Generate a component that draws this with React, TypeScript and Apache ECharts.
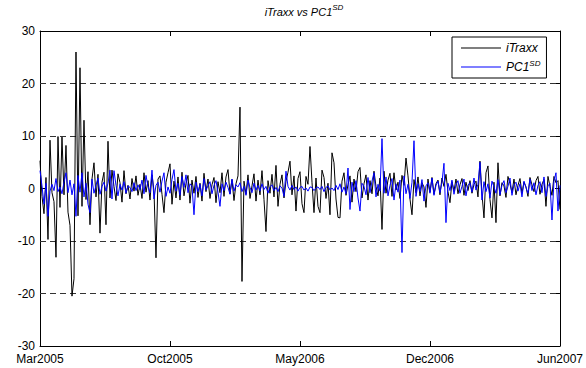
import React, { useEffect, useRef } from "react";
import * as echarts from "echarts";

// Tick labels for the x axis (evenly spaced, Mar 2005 -> Jun 2007)
const X_TICK_LABELS = ["Mar2005", "Oct2005", "May2006", "Dec2006", "Jun2007"];

const iTraxx = [
  5.3, -1.5, -4.8, 2.1, -9.7, 9.2, -0.8, -2.5, -13.1, 9.9,
  -3.6, 9.8, -1.2, 8.2, -4.5, -7.0, -20.5, -17.2, 26.0, -5.2,
  23.0, -3.4, 13.0, -2.1, 3.2, -6.9, 1.8, 4.9, -1.6, 2.7,
  -8.5, 1.2, 3.1, -6.9, 9.0, -1.8, 3.5, 0.4, -2.3, 2.8,
  1.1, -2.6, 3.4, -1.0, 0.6, -2.0, 1.9, -0.5, 2.4, -1.3,
  0.8, -1.9, 3.0, -0.7, 1.5, -2.2, 2.6, -0.4, -13.2, 1.8,
  2.4, -1.1, -4.6, 1.2, 3.0, 4.7, -3.0, 1.4, -1.8, 2.2,
  -2.2, 3.1, -1.4, 0.9, 2.5, -2.8, 1.6, -0.9, 2.3, -1.7,
  1.0, -2.4, 2.9, -0.6, 1.8, -1.9, 0.7, 2.1, -2.7, 1.3,
  -0.8, 3.0, -1.5, 2.2, 3.6, -1.0, 1.7, -2.3, 0.9, 2.4,
  15.5, -17.7, 1.4, -1.1, 2.6, -1.9, 0.5, 2.8, -2.4, 1.6,
  -1.2, 3.4, -2.1, -8.2, 1.5, -0.9, 2.7, -1.6, 4.4, -3.4,
  0.8, 2.6, -1.8, 1.4, 3.1, 5.2, -1.2, 2.4, -4.3, 1.9,
  3.2, -2.9, -4.6, 2.3, 0.8, 8.0, 1.2, -4.6, 2.0, -3.4,
  -4.6, 3.5, 2.1, -1.9, 1.0, -5.0, 6.8, 4.9, -2.0, -5.5,
  -5.6, 1.4, 3.0, -1.3, 0.7, 2.4, -2.6, 1.8, -0.6, 3.2,
  4.0, -1.8, 0.9, 2.6, -2.2, 1.5, -1.0, 3.3, 0.4, -1.4,
  2.0, -7.8, 3.3, -0.9, 1.6, 2.9, -1.5, 3.0, -0.3, 1.2,
  -1.9, 2.5, 0.6, 5.8, 2.4, -2.0, -5.0, 1.7, -0.8, 2.2,
  -1.4, 1.1, 0.3, -3.6, 1.8, -0.7, 2.1, -1.1, 0.9, 1.6,
  -1.2, 2.0, 0.4, 2.7, -0.6, -2.7, 1.3, -0.5, 1.8, -1.0,
  0.7, 1.9, -1.3, 1.2, -0.4, 1.5, -0.9, 0.8, 1.4, -1.6,
  5.2, -1.0, -5.6, 3.0, 4.3, -2.1, -5.6, 1.2, -6.5, 4.9,
  -1.4, 1.1, 0.5, -1.7, 2.3, 0.9, -0.8, 1.8, -1.2, 0.6,
  1.9, -0.9, 1.2, 0.3, -1.5, 2.1, 0.7, -0.6, 1.5, 2.3,
  -1.1, 0.8, 1.7, -3.4, 2.3, 0.4, -1.3, 2.3, 1.1, 1.5, -4.0,
];

const pc1SD = [
  3.4, 0.5, -3.0, 1.0, -5.3, -0.5, 0.8, -0.4, 1.9, -0.6,
  0.3, -1.0, 1.2, 3.0, -0.8, 1.6, -1.2, 0.9, -5.3, 2.5,
  -0.7, 3.0, -1.6, 1.0, -3.0, -4.6, 1.8, -0.9, 0.6, 2.0,
  -1.1, 0.4, 1.2, -0.5, 1.0, 3.5, -2.0, 3.4, 0.6, -1.4,
  0.8, -0.3, 1.3, -0.9, 0.5, 0.2, -0.6, 1.1, -0.4, 0.7,
  -0.2, 1.6, -1.0, 2.5, 0.4, -0.8, 3.5, -2.0, 0.6, 1.2,
  -0.7, 1.4, 3.0, -1.5, 0.3, -0.9, 1.7, 3.6, -0.5, 1.0,
  -1.3, 2.3, 0.2, 2.6, -0.8, 0.9, 0.4, -5.0, 1.2, -0.6,
  0.8, -1.4, 1.9, -0.3, 0.5, 1.3, -1.0, 0.6, 1.5, -0.7,
  -3.4, 0.9, -0.4, 1.2, 0.2, -1.1, 1.8, -0.5, 0.7, 0.3,
  1.1, -0.6, 0.4, -1.3, 1.6, 0.2, -0.8, 1.0, -0.3, 0.6,
  -0.5, 0.9, -0.2, 0.4, -0.9, 0.3, 0.7, -0.4, 0.2, -0.6,
  0.5, 0.1, -1.5, 3.3, 0.4, -0.3, 0.6, -0.2, 0.3, -0.5,
  0.2, 0.4, -0.3, 0.1, -0.5, 0.3, 0.2, -0.4, 0.1, 0.3,
  -0.2, 0.4, -0.6, 0.2, 0.5, -0.3, 0.1, -0.4, 0.6, -0.2,
  0.9, -0.7, 0.3, -1.0, 3.9, -4.0, 1.2, -0.6, 1.5, -1.8,
  -4.3, 1.0, 0.4, -1.2, 2.1, -0.8, 1.4, 3.0, -1.6, 0.8,
  -0.5, 9.5, -0.9, 2.2, -1.4, 0.6, 1.9, -2.2, 0.9, -0.7,
  1.6, -12.2, 2.4, -1.0, 0.8, -1.9, 1.2, 9.1, -1.5, 0.9,
  -0.6, 1.7, -2.4, 0.5, 1.1, -0.9, 2.0, -1.3, 0.6, 1.4,
  -0.8, 1.2, 4.8, -6.5, 1.0, -0.4, 1.6, -1.1, 0.7, 1.5,
  -0.9, 0.4, 1.8, -1.4, 0.6, 1.1, -0.7, 2.0, -0.3, 0.8,
  5.0, -2.2, 1.3, -0.6, 0.9, -1.8, 1.4, 0.3, -0.9, 1.7,
  -1.2, 0.6, 1.5, -0.8, 0.4, 2.0, -1.3, 0.7, 1.2, -0.5,
  0.9, -1.6, 1.4, 0.2, -0.9, 1.8, -0.4, 1.1, -1.2, 0.6,
  1.3, -0.8, 2.2, -1.5, 0.5, 1.0, -6.0, 1.4, 3.0, -4.3, 0.6,
];

const GRID_LEVELS = [20, 10, -10, -20];

const X_MAX = 260;
const X_STEP = X_MAX / (X_TICK_LABELS.length - 1);
const FONT = "'Liberation Sans', Arial, Helvetica, sans-serif";

export default function App() {
  const ref = useRef<HTMLDivElement>(null);

  useEffect(() => {
    if (!ref.current) return;
    const chart = echarts.init(ref.current, null, { renderer: "svg" });
    const toPairs = (arr: number[]) =>
      arr.map((v, i) => [(i * X_MAX) / (arr.length - 1), v]);

    const xCommon = {
      type: "value",
      min: 0,
      max: X_MAX,
      interval: X_STEP,
      splitLine: { show: false },
      axisLine: { show: true, onZero: false, lineStyle: { color: "#000", width: 1 } },
      axisTick: { show: true, inside: true, length: 5, lineStyle: { color: "#000" } },
    };
    const yCommon = {
      type: "value",
      min: -30,
      max: 30,
      interval: 10,
      splitLine: { show: false },
      axisLine: { show: true, onZero: false, lineStyle: { color: "#000", width: 1 } },
      axisTick: { show: true, inside: true, length: 5, lineStyle: { color: "#000" } },
    };

    chart.setOption({
      animation: false,
      backgroundColor: "#fff",
      textStyle: { fontFamily: FONT },
      grid: { left: 40, right: 26, top: 31, bottom: 22, containLabel: false },
      graphic: [
        {
          type: "text",
          x: 304,
          y: 12,
          style: {
            text: "{a|iTraxx vs PC1}{s|SD}",
            align: "center",
            verticalAlign: "middle",
            textAlign: "center",
            textVerticalAlign: "middle",
            fill: "#000",
            rich: {
              a: { fontSize: 11, fontStyle: "italic", fontFamily: FONT, lineHeight: 17, fill: "#000" },
              s: { fontSize: 8, fontStyle: "italic", fontFamily: FONT, lineHeight: 8, verticalAlign: "top", fill: "#000" },
            },
          },
        },
      ],
      legend: {
        orient: "vertical",
        left: 452,
        top: 37,
        padding: [5, 6, 5, 9],
        itemGap: 5,
        itemWidth: 40,
        itemHeight: 1,
        icon: "rect",
        backgroundColor: "#fff",
        borderColor: "#000",
        borderWidth: 1,
        borderRadius: 0,
        data: ["iTraxx", "PC1SD"],
        formatter: (name: string) => (name === "PC1SD" ? "{a|PC1}{s|SD}" : "{a|iTraxx}"),
        textStyle: {
          fontFamily: FONT,
          fontStyle: "italic",
          fontSize: 12,
          color: "#000",
          rich: {
            a: { fontSize: 12, fontStyle: "italic", fontFamily: FONT, lineHeight: 16, color: "#000" },
            s: { fontSize: 8, fontStyle: "italic", fontFamily: FONT, lineHeight: 8, verticalAlign: "top", color: "#000" },
          },
        },
      },
      xAxis: [
        {
          ...xCommon,
          position: "bottom",
          axisLabel: {
            show: true,
            margin: 7,
            fontSize: 12,
            lineHeight: 12,
            color: "#000",
            fontFamily: FONT,
            showMinLabel: true,
            showMaxLabel: true,
            formatter: (v: number) => X_TICK_LABELS[Math.round(v / X_STEP)] ?? "",
          },
        },
        { ...xCommon, position: "top", axisLabel: { show: false } },
      ],
      yAxis: [
        {
          ...yCommon,
          position: "left",
          axisLabel: {
            show: true,
            margin: 5,
            fontSize: 12,
            lineHeight: 11,
            padding: [0, 0, 2, 0],
            color: "#000",
            fontFamily: FONT,
          },
        },
        { ...yCommon, position: "right", axisLabel: { show: false } },
      ],
      series: [
        {
          name: "iTraxx",
          type: "line",
          xAxisIndex: 0,
          yAxisIndex: 0,
          symbol: "none",
          showSymbol: false,
          lineStyle: { color: "#000", width: 1 },
          itemStyle: { color: "#000" },
          data: toPairs(iTraxx),
          z: 3,
          markLine: {
            silent: true,
            symbol: "none",
            label: { show: false },
            lineStyle: { type: [6, 4], color: "#333", width: 1 },
            data: GRID_LEVELS.map((v) => ({ yAxis: v })),
            z: 1,
          },
        },
        {
          name: "PC1SD",
          type: "line",
          xAxisIndex: 0,
          yAxisIndex: 0,
          symbol: "none",
          showSymbol: false,
          lineStyle: { color: "#0000ff", width: 1 },
          itemStyle: { color: "#0000ff" },
          data: toPairs(pc1SD),
          z: 4,
        },
      ],
    });

    return () => chart.dispose();
  }, []);

  return (
    <div
      ref={ref}
      style={{ position: "absolute", left: 0, top: 0, width: 586, height: 368 }}
    />
  );
}
